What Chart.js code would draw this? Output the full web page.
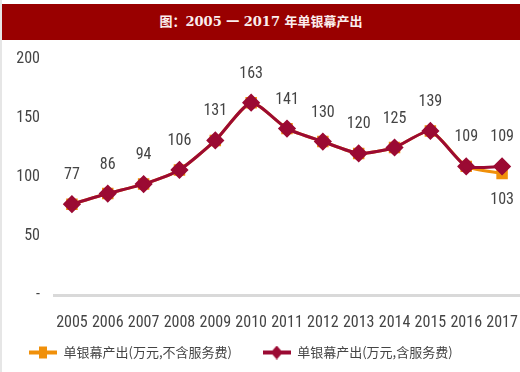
<!DOCTYPE html>
<html>
<head>
<meta charset="utf-8">
<script src="https://cdn.jsdelivr.net/npm/chart.js@4/dist/chart.umd.min.js"></script>
<style>
  body { margin: 0; background: #fff; }
  #wrap { position: relative; width: 520px; height: 372px; border-left: 2px solid #e6e6e6; box-sizing: border-box; }
  #title { position: absolute; left: 0; top: 4px; width: 518px; height: 36px; background: #990000;
    color: #fbeeee; font: bold 13px 'DejaVu Serif', 'Noto Sans CJK SC', serif; text-align: center; line-height: 36px; }
  #box { position: absolute; left: 0; top: 40px; width: 518px; height: 332px; }
</style>
</head>
<body>
<div id="wrap">
  <div id="title">图：2005 一 2017 年单银幕产出</div>
  <div id="box"><canvas id="chart"></canvas></div>
</div>
<script>
// data
var years = ['2005','2006','2007','2008','2009','2010','2011','2012','2013','2014','2015','2016','2017'];
var noService = [77, 86, 94, 106, 131, 163, 141, 130, 120, 125, 139, 109, 103];
var withService = [77, 86, 94, 106, 131, 163, 141, 130, 120, 125, 139, 109, 109];
var seriesNames = ['单银幕产出(万元,不含服务费)', '单银幕产出(万元,含服务费)'];

var orange = '#f0900a';
var darkRed = '#9b0a33';
var textGray = '#444444';
var numFont = "'Roboto Condensed', 'Liberation Sans Narrow', Roboto, 'DejaVu Sans', sans-serif";
var numFontString = 'condensed 16px ' + numFont;

// legend icons: a short line with the marker in the middle
function legendIcon(color, diamond) {
    var c = document.createElement('canvas');
    c.width = 28; c.height = 14;
    var g = c.getContext('2d');
    g.fillStyle = color;
    g.fillRect(0, 5, 28, 4);
    g.beginPath();
    if (diamond) {
        g.moveTo(14, 0); g.lineTo(20, 7); g.lineTo(14, 14); g.lineTo(8, 7);
    } else {
        g.rect(10, 1, 8, 12);
    }
    g.closePath();
    g.fill();
    return c;
}

// value labels above the points (and below where the orange one splits off)
var valueLabels = {
    id: 'valueLabels',
    afterDatasetsDraw: function(chart) {
        var ctx = chart.ctx;
        var xs = chart.scales.x, ys = chart.scales.y;
        ctx.save();
        ctx.font = numFontString;
        ctx.fillStyle = textGray;
        ctx.textAlign = 'center';
        ctx.textBaseline = 'middle';
        for (var i = 0; i < years.length; i++) {
            var x = xs.getPixelForValue(i);
            ctx.fillText(withService[i], x, ys.getPixelForValue(withService[i]) - 29);
            if (noService[i] != withService[i]) {
                ctx.fillText(noService[i], x, ys.getPixelForValue(noService[i]) + 27);
            }
        }
        ctx.restore();
    }
};

const ctx1 = document.getElementById('chart').getContext('2d');
const chart = new Chart(ctx1, {
    type: 'line',
    data: {
        labels: years,
        datasets: [
        {
            label: seriesNames[0] + '\u3000  ',
            data: noService,
            borderColor: orange,
            backgroundColor: orange,
            borderWidth: 3,
            pointStyle: 'rect',
            pointRadius: 6,
            tension: 0.2,
            order: 1,
        },
        {
            label: seriesNames[1],
            data: withService,
            borderColor: darkRed,
            backgroundColor: darkRed,
            borderWidth: 3,
            pointStyle: 'rectRot',
            pointRadius: 7,
            tension: 0.2,
            order: 0,
        }
    ]},
    options: {
        responsive: true,
        maintainAspectRatio: false,
        animation: false,
        layout: { autoPadding: false, padding: { top: 19, left: 15, right: 0, bottom: 3 } },
        plugins: {
            legend: {
                position: 'bottom',
                align: 'start',
                labels: {
                    usePointStyle: true,
                    pointStyleWidth: 28,
                    padding: 12,
                    color: textGray,
                    font: { size: 13, family: "'Noto Sans CJK SC', sans-serif" },
                    generateLabels: function(chart) {
                        var icons = [legendIcon(orange, false), legendIcon(darkRed, true)];
                        return chart.data.datasets.map(function(ds, i) {
                            return { text: ds.label, pointStyle: icons[i], datasetIndex: i,
                                     fillStyle: ds.borderColor, strokeStyle: 'transparent',
                                     lineWidth: 0, fontColor: textGray };
                        });
                    }
                }
            },
            tooltip: { enabled: false },
        },
        scales: {
            x: {
                offset: true,
                afterFit: function(scale) {
                    scale.height = 39;
                    scale.paddingLeft = 0;
                    scale.paddingRight = 0;
                },
                grid: { display: false, drawTicks: false },
                border: { color: '#d9d9d9', width: 3 },
                ticks: { color: textGray, font: { size: 16, family: numFont, weight: 'condensed' }, padding: 18, maxRotation: 0, autoSkip: false }
            },
            y: {
                min: 0,
                max: 200,
                afterFit: function(scale) {
                    scale.width = 37;
                    scale.paddingTop = 0;
                    scale.paddingBottom = 0;
                },
                grid: { display: false, drawTicks: false },
                border: { display: false },
                ticks: {
                    stepSize: 50,
                    padding: 14,
                    color: textGray,
                    font: { size: 16, family: numFont, weight: 'condensed' },
                    callback: function(v) { return v == 0 ? '-' : v; }
                }
            }
        },
    },
    plugins: [valueLabels]
});
</script>
</body>
</html>
